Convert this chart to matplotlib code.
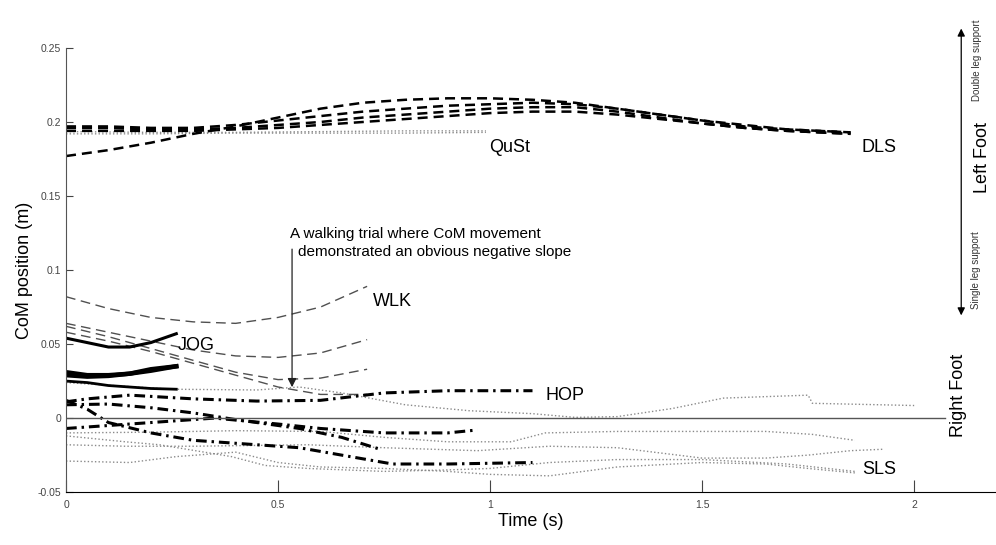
import matplotlib.pyplot as plt

# CoM position traces per task
plt.rcParams['font.family'] = ['Liberation Sans', 'DejaVu Sans']

# --- DLS: double leg stance, dashed black ---
dls_t = [0, 0.1, 0.2, 0.3, 0.4, 0.5, 0.6, 0.7, 0.8, 0.9, 1.0, 1.1, 1.2, 1.3, 1.4, 1.5, 1.6, 1.7, 1.85]
dls_1 = [0.177, 0.181, 0.186, 0.192, 0.197, 0.203, 0.209, 0.213, 0.215, 0.216, 0.216, 0.215, 0.213, 0.209, 0.205, 0.201, 0.198, 0.195, 0.193]
dls_2 = [0.197, 0.197, 0.196, 0.196, 0.198, 0.201, 0.204, 0.207, 0.209, 0.211, 0.212, 0.213, 0.212, 0.209, 0.205, 0.201, 0.197, 0.195, 0.193]
dls_3 = [0.196, 0.196, 0.195, 0.195, 0.196, 0.198, 0.200, 0.203, 0.205, 0.207, 0.209, 0.210, 0.210, 0.207, 0.203, 0.199, 0.196, 0.194, 0.192]
dls_4 = [0.194, 0.194, 0.194, 0.194, 0.195, 0.196, 0.198, 0.200, 0.202, 0.204, 0.206, 0.207, 0.207, 0.205, 0.202, 0.199, 0.196, 0.194, 0.192]

# --- QuSt: quiet standing, dotted grey ---
qust_t = [0, 0.2, 0.4, 0.6, 0.8, 0.99]
qust_1 = [0.192, 0.192, 0.1925, 0.1925, 0.1925, 0.193]
qust_2 = [0.1935, 0.193, 0.193, 0.1935, 0.194, 0.194]

# --- WLK: walking, thin grey dashed ---
wlk_t = [0, 0.1, 0.2, 0.3, 0.4, 0.5, 0.6, 0.71]
wlk_1 = [0.082, 0.074, 0.068, 0.065, 0.064, 0.068, 0.075, 0.089]
wlk_2 = [0.064, 0.058, 0.052, 0.046, 0.042, 0.041, 0.044, 0.053]
wlk_3 = [0.062, 0.055, 0.047, 0.039, 0.031, 0.026, 0.027, 0.033]
wlk_4 = [0.058, 0.052, 0.045, 0.037, 0.029, 0.021, 0.016, 0.016]

# --- JOG: jogging, solid black ---
jog_t = [0, 0.05, 0.1, 0.15, 0.2, 0.26]
jog_1 = [0.054, 0.051, 0.048, 0.048, 0.051, 0.057]
jog_2 = [0.031, 0.029, 0.029, 0.030, 0.032, 0.035]
jog_3 = [0.029, 0.028, 0.0285, 0.030, 0.033, 0.035]
jog_4 = [0.025, 0.024, 0.022, 0.021, 0.020, 0.0195]

# --- HOP: hopping, dash-dot black ---
hop_a_t = [0, 0.05, 0.15, 0.3, 0.45, 0.6, 0.75, 0.9, 1.1]
hop_a = [0.011, 0.013, 0.0155, 0.013, 0.0115, 0.012, 0.017, 0.0185, 0.0185]
hop_b_t = [0, 0.1, 0.2, 0.35, 0.5, 0.6, 0.75, 0.9, 0.97]
hop_b = [-0.007, -0.005, -0.003, 0.0, -0.004, -0.007, -0.010, -0.010, -0.008]
hop_c_t = [0, 0.1, 0.2, 0.3, 0.4, 0.55, 0.65, 0.74]
hop_c = [0.009, 0.0095, 0.007, 0.0035, -0.001, -0.007, -0.013, -0.021]
hop_d_t = [0, 0.05, 0.1, 0.2, 0.3, 0.45, 0.55, 0.65, 0.77, 0.9, 1.1]
hop_d = [0.012, 0.006, -0.003, -0.010, -0.015, -0.018, -0.020, -0.025, -0.031, -0.031, -0.030]

# --- SLS: single leg stance, dotted grey ---
sls_1_t = [0, 0.25, 0.45, 0.55, 0.65, 0.8, 0.95, 1.1, 1.2, 1.3, 1.43, 1.55, 1.75, 1.76, 2.0]
sls_1 = [0.024, 0.0195, 0.019, 0.021, 0.017, 0.009, 0.005, 0.003, 0.0005, 0.001, 0.0065, 0.0135, 0.0155, 0.010, 0.0085]
sls_2_t = [0, 0.2, 0.4, 0.6, 0.75, 0.9, 1.05, 1.13, 1.3, 1.5, 1.65, 1.76, 1.86]
sls_2 = [-0.010, -0.0095, -0.0085, -0.009, -0.013, -0.016, -0.016, -0.010, -0.009, -0.009, -0.009, -0.011, -0.015]
sls_3_t = [0, 0.14, 0.22, 0.39, 0.47, 0.57, 0.75, 0.9, 1.0, 1.14, 1.3, 1.5, 1.7, 1.86]
sls_3 = [-0.012, -0.016, -0.018, -0.026, -0.032, -0.034, -0.036, -0.035, -0.034, -0.030, -0.028, -0.028, -0.031, -0.036]
sls_4_t = [0, 0.14, 0.3, 0.57, 0.75, 0.97, 1.14, 1.3, 1.5, 1.65, 1.75, 1.85, 1.93]
sls_4 = [-0.018, -0.019, -0.019, -0.018, -0.020, -0.022, -0.019, -0.020, -0.027, -0.027, -0.025, -0.022, -0.021]
sls_5_t = [0, 0.15, 0.26, 0.4, 0.5, 0.6, 0.75, 0.9, 1.0, 1.14, 1.3, 1.5, 1.65, 1.75, 1.86]
sls_5 = [-0.029, -0.030, -0.026, -0.023, -0.030, -0.033, -0.034, -0.036, -0.038, -0.039, -0.033, -0.030, -0.031, -0.034, -0.037]

x_ticks = [0, 0.5, 1, 1.5, 2]
x_tick_labels = ["0", "0.5", "1", "1.5", "2"]
y_ticks = [-0.05, 0, 0.05, 0.1, 0.15, 0.2, 0.25]
y_tick_labels = ["-0.05", "0", "0.05", "0.1", "0.15", "0.2", "0.25"]

fig = plt.figure(figsize=(9.96, 5.45), dpi=100)
ax = fig.add_axes([0.0663, 0.097, 0.9337, 0.815])

grey_dot = dict(color="#8a8a8a", lw=1.0, ls=(0, (1, 1.6)))
for t, v in [(sls_1_t, sls_1), (sls_2_t, sls_2), (sls_3_t, sls_3), (sls_4_t, sls_4), (sls_5_t, sls_5),
             (qust_t, qust_1), (qust_t, qust_2)]:
    ax.plot(t, v, **grey_dot)

for v in [wlk_1, wlk_2, wlk_3, wlk_4]:
    ax.plot(wlk_t, v, color="#505050", lw=1.0, ls=(0, (7, 4)))

for v in [dls_1, dls_2, dls_3, dls_4]:
    ax.plot(dls_t, v, color="black", lw=1.8, ls=(0, (4, 2.4)))

ax.plot(jog_t, jog_1, color="black", lw=2.2)
ax.plot(jog_t, jog_2, color="black", lw=3.2)
ax.plot(jog_t, jog_3, color="black", lw=3.2)
ax.plot(jog_t, jog_4, color="black", lw=2.0)

for t, v in [(hop_a_t, hop_a), (hop_b_t, hop_b), (hop_c_t, hop_c), (hop_d_t, hop_d)]:
    ax.plot(t, v, color="black", lw=2.2, ls=(0, (3.5, 1.6, 0.8, 1.6)))

# zero reference line
ax.plot([0, 2.073], [0, 0], color="#555555", lw=1.0)

ax.set_xlim(0, 2.193)
ax.set_ylim(-0.05, 0.25)
ax.set_xticks(x_ticks, x_tick_labels)
ax.set_yticks(y_ticks, y_tick_labels)
ax.tick_params(direction="in", labelsize=7.5, labelcolor="#444444", color="#444444")
ax.tick_params(axis="x", length=9, pad=6)
ax.tick_params(axis="y", length=5)
for s in ["top", "right"]:
    ax.spines[s].set_visible(False)
ax.spines["left"].set_color("#555555")
ax.spines["bottom"].set_color("black")

ax.set_xlabel("Time (s)", fontsize=13, labelpad=2)
ax.set_ylabel("CoM position (m)", fontsize=13, labelpad=3)

# task labels
lab = dict(fontsize=13, va="center", ha="left")
ax.text(0.997, 0.183, "QuSt", **lab)
ax.text(1.877, 0.183, "DLS", **lab)
ax.text(0.724, 0.079, "WLK", **lab)
ax.text(0.264, 0.049, "JOG", **lab)
ax.text(1.13, 0.0155, "HOP", **lab)
ax.text(1.877, -0.035, "SLS", **lab)

ax.text(0.528, 0.1245, "A walking trial where CoM movement", fontsize=11, va="center", ha="left")
ax.text(0.546, 0.112, "demonstrated an obvious negative slope", fontsize=11, va="center", ha="left")
ax.annotate("", xy=(0.533, 0.019), xytext=(0.533, 0.116),
            arrowprops=dict(arrowstyle="-|>", color="#222222", lw=0.9, mutation_scale=13))

# foot / support indicator on the right
ax.annotate("", xy=(2.111, 0.265), xytext=(2.111, 0.0675),
            arrowprops=dict(arrowstyle="<|-|>", color="black", lw=0.9, mutation_scale=11),
            annotation_clip=False)
ax.text(2.160, 0.176, "Left Foot", rotation=90, fontsize=13, ha="center", va="center", clip_on=False)
ax.text(2.149, 0.242, "Double leg support", rotation=90, fontsize=7, ha="center", va="center",
        color="#333333", clip_on=False)
ax.text(2.146, 0.100, "Single leg support", rotation=90, fontsize=7, ha="center", va="center",
        color="#333333", clip_on=False)
ax.text(2.104, 0.0155, "Right Foot", rotation=90, fontsize=13, ha="center", va="center", clip_on=False)

fig.savefig("out.png", dpi=100)
